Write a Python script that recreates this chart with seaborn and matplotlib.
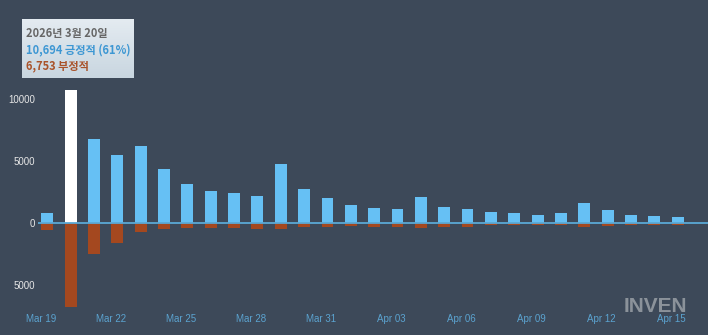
import numpy as np
import pandas as pd
import matplotlib
matplotlib.use("Agg")
import matplotlib.pyplot as plt
import matplotlib.transforms as mtransforms
from matplotlib.colors import LinearSegmentedColormap
import seaborn as sns

# ---- data ----
days = ["Mar 19", "Mar 20", "Mar 21", "Mar 22", "Mar 23", "Mar 24", "Mar 25", "Mar 26",
        "Mar 27", "Mar 28", "Mar 29", "Mar 30", "Mar 31", "Apr 01", "Apr 02", "Apr 03",
        "Apr 04", "Apr 05", "Apr 06", "Apr 07", "Apr 08", "Apr 09", "Apr 10", "Apr 11",
        "Apr 12", "Apr 13", "Apr 14", "Apr 15"]
positive = [800, 10694, 6770, 5480, 6200, 4330, 3120, 2580, 2440, 2200, 4730, 2770, 2040, 1430,
            1210, 1150, 2070, 1320, 1100, 860, 830, 670, 810, 1610, 1030, 620, 540, 460]
negative = [600, 6753, 2500, 1640, 750, 500, 430, 400, 400, 510, 480, 350, 350, 250,
            300, 350, 380, 300, 320, 200, 200, 200, 200, 320, 270, 200, 150, 130]
selected_day = "Mar 20"
xtick_labels = ["Mar 19", "Mar 22", "Mar 25", "Mar 28", "Mar 31", "Apr 03", "Apr 06",
                "Apr 09", "Apr 12", "Apr 15"]
ytick_values = [10000, 5000, 0, -5000]
ytick_labels = ["10000", "5000", "0", "5000"]
tooltip_lines = ["2026년 3월 20일", "10,694 긍정적 (61%)", "6,753 부정적"]

BG = "#3d4959"
POS = "#66c0f4"
NEG = "#a4481f"

df = pd.DataFrame({"day": days, "pos": positive, "neg": [-v for v in negative]})
df["sel"] = df["day"] == selected_day

sns.set_theme(style="dark")
plt.rcParams["font.family"] = ["Liberation Sans", "DejaVu Sans"]

fig = plt.figure(figsize=(7.08, 3.35), dpi=100, facecolor=BG)
ax = fig.add_axes([38 / 708, (335 - 307.3) / 335, (708 - 38) / 708, (307.3 - 80.4) / 335])
ax.set_facecolor(BG)

sns.barplot(data=df, x="day", y="pos", hue="sel", palette={False: POS, True: "#ffffff"},
            dodge=False, legend=False, width=0.51, order=days, ax=ax, saturation=1,
            linewidth=0, edgecolor="none")
sns.barplot(data=df, x="day", y="neg", color=NEG, width=0.51, order=days, ax=ax,
            saturation=1, linewidth=0, edgecolor="none")

ax.axhline(0, color="#5aa9d6", lw=1.3, zorder=5)
ax.set_xlim(-0.4, 28.3)
ax.set_ylim(-6800, 11500)

for s in ax.spines.values():
    s.set_visible(False)
ax.grid(False)
ax.set_xlabel("")
ax.set_ylabel("")

ax.set_yticks(ytick_values)
ax.set_yticklabels(ytick_labels)
ax.tick_params(axis="y", length=0, pad=2, labelsize=7, labelcolor="#e6e6e6")

xpos = [days.index(d) for d in xtick_labels]
ax.set_xticks(xpos)
ax.set_xticklabels(xtick_labels)
ax.tick_params(axis="x", length=0, pad=5, labelsize=7, labelcolor="#5ba3d0")
off = mtransforms.ScaledTranslation(-6 / 100, 0, fig.dpi_scale_trans)
for lab in ax.get_xticklabels():
    lab.set_transform(lab.get_transform() + off)

# tooltip
tax = fig.add_axes([22 / 708, (335 - 78) / 335, 112 / 708, 59 / 335])
grad = np.linspace(0, 1, 64).reshape(-1, 1)
cmap = LinearSegmentedColormap.from_list("tt", ["#e4ebf1", "#c9d6e0"])
tax.imshow(grad, aspect="auto", cmap=cmap, extent=[0, 112, 59, 0])
tax.set_xlim(0, 112)
tax.set_ylim(59, 0)
tax.axis("off")
cjk = ["Noto Sans CJK KR", "DejaVu Sans"]
colors = ["#666666", "#3d97d3", "#a9532a"]
ys = [14, 31, 47]
for t, c, y in zip(tooltip_lines, colors, ys):
    tax.text(4, y, t, color=c, fontsize=8, fontweight="bold", family=cjk,
             va="center", ha="left")

# watermark
fig.text(624 / 708, 1 - 306 / 335, "INVEN", color="#9aa0a6", fontsize=15,
         fontweight="bold", va="center", ha="left", alpha=0.85, family=["Liberation Sans"])

fig.savefig("out.png", dpi=100, facecolor=BG)
